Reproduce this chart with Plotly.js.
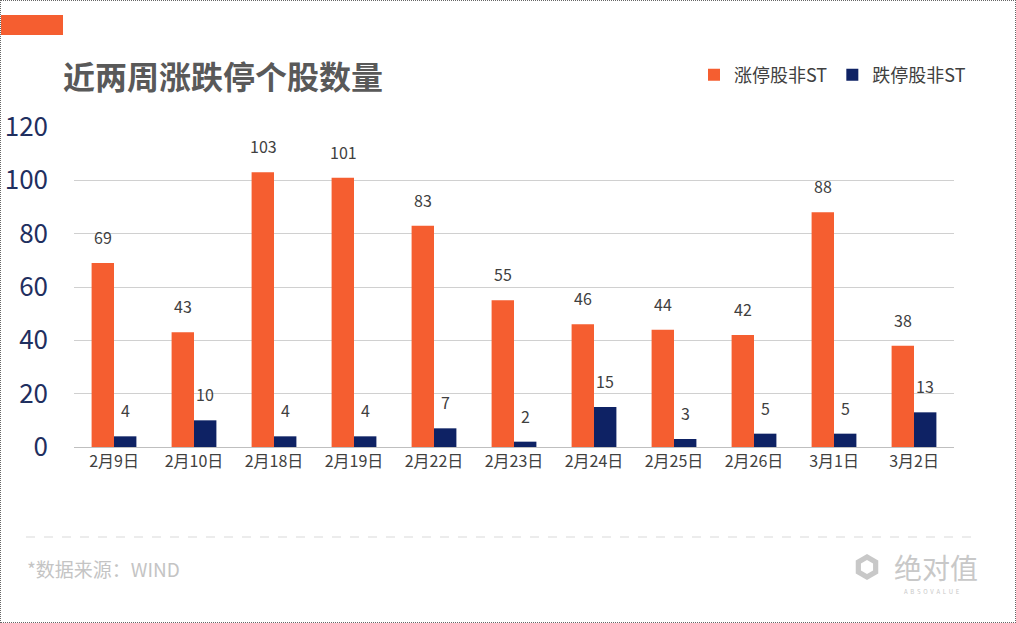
<!DOCTYPE html>
<html><head><meta charset="utf-8">
<script src="https://cdn.plot.ly/plotly-3.0.1.min.js"></script>
<style>
html,body{margin:0;padding:0;background:#fff;}
#wrap{position:relative;width:1016px;height:623px;box-sizing:border-box;border:1px dotted #666;}
#chart{position:absolute;left:0;top:0;width:1016px;height:623px;}
</style></head><body>
<div id="wrap"><div id="chart"></div></div>
<script>
const categories = ["2月9日","2月10日","2月18日","2月19日","2月22日","2月23日","2月24日","2月25日","2月26日","3月1日","3月2日"];
const limitUp = [69,43,103,101,83,55,46,44,42,88,38];
const limitDown = [4,10,4,4,7,2,15,3,5,5,13];
const seriesNames = ["涨停股非ST","跌停股非ST"];
const yTicks = [0,20,40,60,80,100,120];

const ORANGE = "#F55E30", NAVY = "#0E2264";
const font = "'Noto Sans CJK SC','Noto Sans',sans-serif";

// plot area geometry in pixels (for decorative elements only)
const L = 73, T = 126, W = 880, H = 320;
const px = v => (v - L) / W;
const py = v => (T + H - v) / H;

const traces = [
  {type:"bar", x:categories, y:limitUp, name:seriesNames[0], marker:{color:ORANGE}, hoverinfo:"none"},
  {type:"bar", x:categories, y:limitDown, name:seriesNames[1], marker:{color:NAVY}, hoverinfo:"none"}
];

const annotations = [];
categories.forEach((c,i)=>{
  annotations.push({x:c, y:limitUp[i], xref:"x", yref:"y", text:String(limitUp[i]), showarrow:false, yanchor:"bottom", xshift:-11, yshift:12, font:{family:font, size:16, color:"#404040"}});
  annotations.push({x:c, y:limitDown[i], xref:"x", yref:"y", text:String(limitDown[i]), showarrow:false, yanchor:"bottom", xshift:11, yshift:12, font:{family:font, size:16, color:"#404040"}});
});
// title
annotations.push({xref:"paper", yref:"paper", x:px(60), y:py(74), xanchor:"left", yanchor:"middle", text:"<b>近两周涨跌停个股数量</b>", showarrow:false, font:{family:font, size:32, color:"#595959"}});
// footer source
annotations.push({xref:"paper", yref:"paper", x:px(24), y:py(567), xanchor:"left", yanchor:"middle", text:"*数据来源：WIND", showarrow:false, font:{family:font, size:19, color:"#C4C4C4"}});
// logo
annotations.push({xref:"paper", yref:"paper", x:px(979), y:py(566), xanchor:"right", yanchor:"middle", text:"绝对值", showarrow:false, font:{family:font, size:28, color:"#C8C8C8"}});
annotations.push({xref:"paper", yref:"paper", x:px(931), y:py(590), xanchor:"center", yanchor:"middle", text:"A  B  S  O  V  A  L  U  E", showarrow:false, font:{family:font, size:6, color:"#C8C8C8"}});

function hexPath(cx, cy, r){
  let d = "";
  for (let k=0;k<6;k++){
    const a = Math.PI/180*(60*k-90);
    const xx = px(cx + r*Math.cos(a)), yy = py(cy + r*Math.sin(a));
    d += (k===0?"M":"L") + xx + "," + yy + " ";
  }
  return d + "Z";
}

const layout = {
  width:1016, height:623,
  margin:{l:L, r:1016-L-W, t:T, b:623-T-H},
  paper_bgcolor:"rgba(0,0,0,0)", plot_bgcolor:"rgba(0,0,0,0)",
  barmode:"group", bargap:0.44, bargroupgap:0,
  showlegend:true,
  legend:{orientation:"h", x:px(970), xanchor:"right", y:py(74), yanchor:"middle", font:{family:font, size:18, color:"#404040"}, traceorder:"normal", itemwidth:30},
  xaxis:{type:"category", showgrid:false, showline:true, linecolor:"#BFBFBF", linewidth:1, ticks:"", tickfont:{family:font, size:16, color:"#404040"}, fixedrange:true},
  yaxis:{range:[0,120], tickvals:yTicks, ticktext:yTicks.map(String), showgrid:true, gridcolor:"#D0D0D0", gridwidth:1, zeroline:false, showline:false, ticks:"", ticklabelstandoff:25, tickfont:{family:font, size:26, color:"#1F2F5F"}, fixedrange:true},
  annotations:annotations,
  shapes:[
    {type:"line", xref:"paper", yref:"paper", x0:px(25), x1:px(976), y0:py(536), y1:py(536), line:{color:"#D9D9D9", width:1, dash:"dash"}},
    {type:"rect", xref:"paper", yref:"paper", x0:px(0), x1:px(62), y0:py(34), y1:py(14), line:{width:0}, fillcolor:ORANGE},
    {type:"path", xref:"paper", yref:"paper", path:hexPath(866, 566, 13), line:{width:0}, fillcolor:"#C8C8C8"},
    {type:"path", xref:"paper", yref:"paper", path:hexPath(866, 566, 7), line:{width:0}, fillcolor:"#FFFFFF"}
  ]
};

Plotly.newPlot("chart", traces, layout, {displayModeBar:false, staticPlot:true});
</script>
</body></html>
